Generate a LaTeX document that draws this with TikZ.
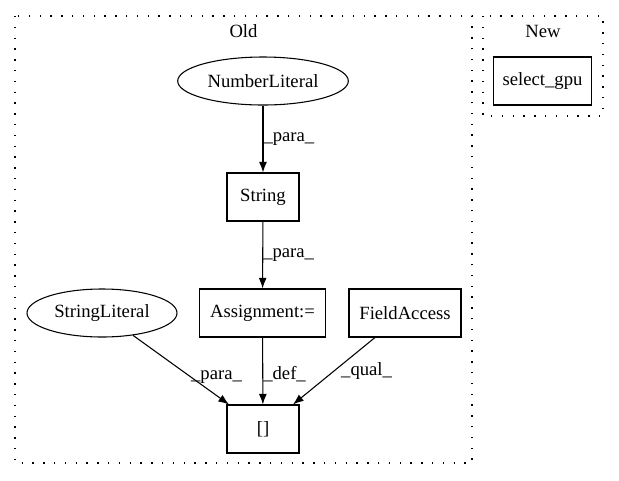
\documentclass[tikz,border=0pt]{standalone}
\usepackage{fontspec}
\setmainfont{Liberation Serif}
\usetikzlibrary{shapes.geometric,arrows.meta}
\tikzset{>={Latex[length=8pt,width=6pt]}}
\tikzset{
  box/.style = {draw, rectangle, minimum height=36pt, inner sep=0pt},
  oval/.style = {draw, ellipse, minimum height=36pt, inner sep=0pt},
  cluster/.style = {draw, dash pattern=on 1pt off 7.1pt, line width=0.8pt},
  lbl/.style = {anchor=west, inner sep=0pt}
}

\begin{document}
\begin{tikzpicture}[x=0.75pt,y=-0.75pt,line width=0.8pt,
    font=\fontsize{14}{16}\selectfont]
  \useasboundingbox (0,0) rectangle (619,480);
  % clusters
  \draw[cluster] (15,16) rectangle (472,463);
  \node (old) at (243.5,31) {Old};
  \draw[cluster] (483,16) rectangle (603,116);
  \node (new) at (543,31) {New};
  % nodes of Old
  \node[oval,minimum width=128pt] (nl) at (263,81) {NumberLiteral};
  \node[box,minimum width=54pt] (str) at (263,197) {String};
  \node[box,minimum width=95pt] (asg) at (262.5,313) {Assignment:=};
  \node[box,minimum width=84pt] (fa) at (405,313) {FieldAccess};
  \node[oval,minimum width=112.5pt] (sl) at (102,313) {StringLiteral};
  \node[box,minimum width=54pt] (idx) at (263,429) {[]};
  % node of New
  \node[box,minimum width=74pt] (gpu) at (542.5,81) {select\_gpu};
  % edges
  \draw[->] (nl) -- node[lbl] {\_para\_} (str);
  \draw[->] (str) -- node[lbl] {\_para\_} (asg);
  \draw[->] (sl) -- node[lbl,pos=0.6] {\_para\_} (idx);
  \draw[->] (asg) -- node[lbl,pos=0.55] {\_def\_} (idx);
  \draw[->] (fa) -- node[lbl,pos=0.5,xshift=5pt] {\_qual\_} (idx);
\end{tikzpicture}
\end{document}
